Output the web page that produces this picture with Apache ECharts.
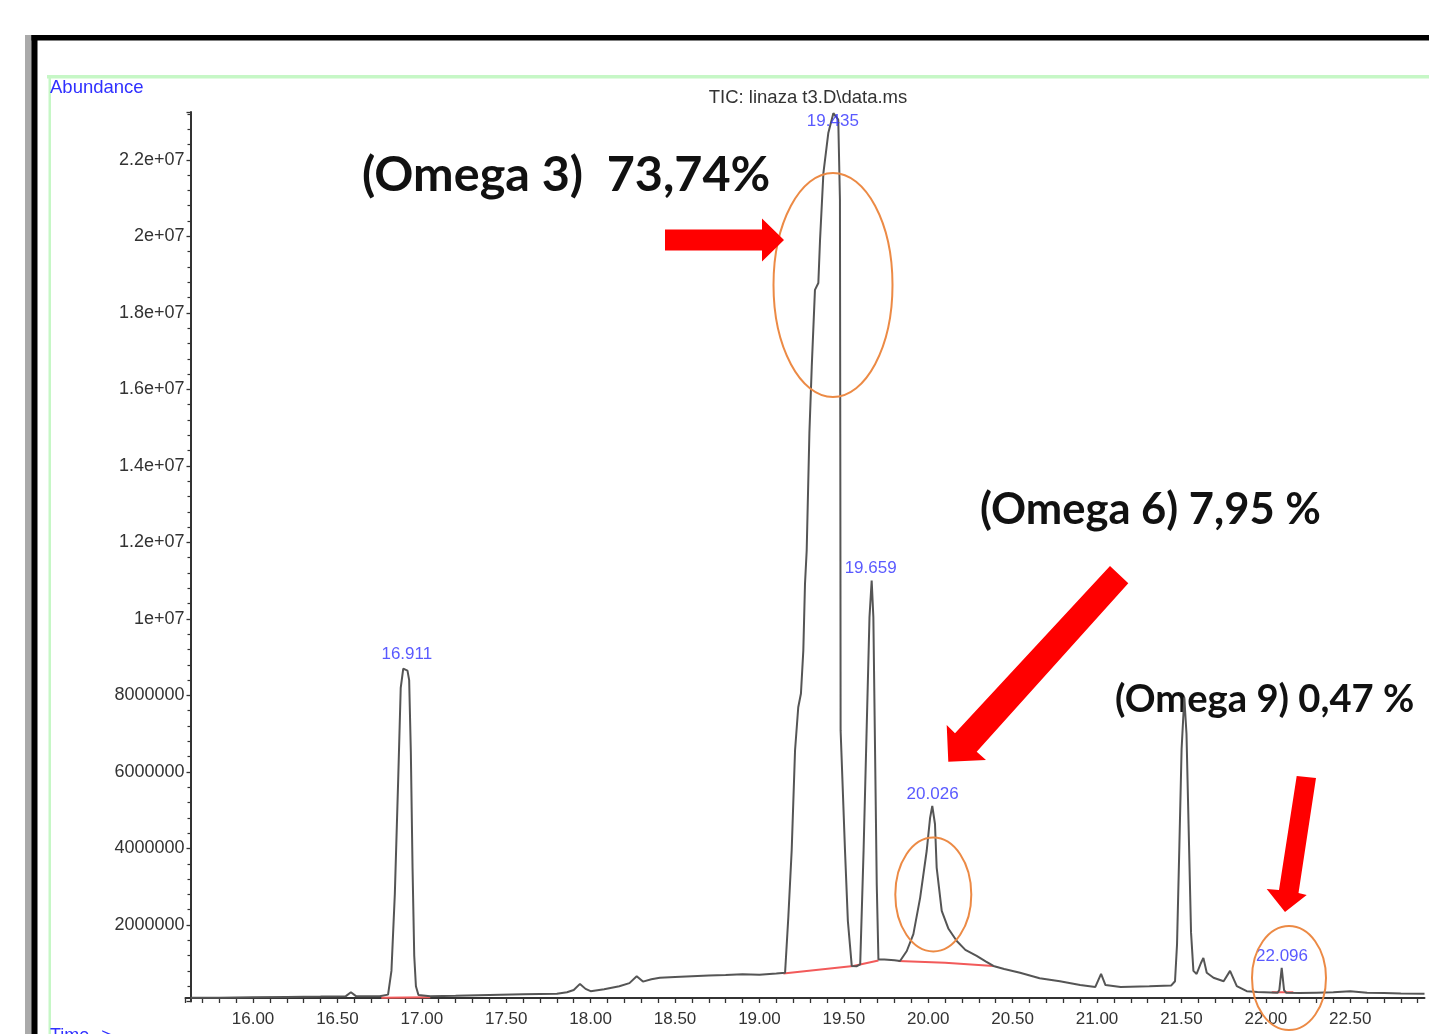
<!DOCTYPE html>
<html><head><meta charset="utf-8">
<script src="https://cdn.jsdelivr.net/npm/echarts@6/dist/echarts.min.js"></script>
<style>html,body{margin:0;padding:0;background:#fff}#chart{width:1429px;height:1034px}</style>
</head><body><div id="chart"></div>
<script>
// Retention time (min)
const timeMin = [
15.63,15.80,16.00,16.20,16.40,16.55,16.58,16.61,16.75,16.80,16.82,16.84,16.86,16.875,16.89,16.90,16.915,16.925,16.935,16.945,16.955,16.965,16.98,
17.05,17.20,17.40,17.60,17.80,17.86,17.90,17.937,17.97,18.00,18.08,18.17,18.23,18.273,18.31,18.36,18.41,18.50,18.60,18.70,18.80,18.90,19.00,19.10,
19.152,19.171,19.191,19.211,19.230,19.246,19.260,19.270,19.280,19.296,19.310,19.329,19.349,19.359,19.379,19.408,19.438,19.467,19.477,19.479,19.480,19.481,19.486,19.507,19.524,19.547,
19.575,19.597,19.617,19.637,19.652,19.665,19.675,19.685,19.695,19.705,19.74,19.80,19.833,19.873,19.912,19.952,19.991,20.011,20.024,20.040,20.050,20.080,20.12,20.169,20.22,20.287,20.34,20.386,20.45,20.544,
20.66,20.78,20.90,20.99,21.024,21.05,21.14,21.31,21.44,21.462,21.474,21.488,21.501,21.517,21.530,21.545,21.557,21.571,21.59,21.615,21.63,21.65,21.69,21.75,21.788,21.828,21.887,21.95,
22.07,22.08,22.094,22.108,22.12,22.20,22.30,22.40,22.50,22.60,22.70,22.80,22.94
];
// Abundance (millions of counts)
const abundanceM = [
0.10,0.10,0.11,0.12,0.13,0.14,0.24,0.14,0.14,0.18,0.8,2.8,5.8,8.2,8.7,8.75,8.65,8.4,6.5,3.5,1.2,0.4,0.17,
0.14,0.15,0.17,0.19,0.20,0.24,0.30,0.46,0.33,0.27,0.32,0.40,0.48,0.66,0.52,0.58,0.62,0.64,0.66,0.68,0.69,0.71,0.70,0.73,
0.75,2.19,3.94,6.56,7.69,8.05,9.17,10.92,11.79,14.85,16.59,18.6,18.78,19.9,21.65,22.7,23.22,23.05,20.95,14.85,11.5,7.08,6.48,3.94,2.1,0.93,
0.92,0.97,3.94,7.43,10.04,11.0,10.04,6.56,3.07,1.1,1.1,1.08,1.06,1.32,1.76,2.71,3.94,4.8,5.11,4.64,3.5,2.37,1.9,1.58,1.35,1.19,1.05,0.93,0.85,0.75,
0.61,0.53,0.43,0.38,0.72,0.43,0.38,0.40,0.42,0.53,1.5,4.1,6.6,7.95,7.0,4.1,1.8,0.8,0.72,1.0,1.14,0.75,0.62,0.53,0.80,0.40,0.27,0.25,
0.23,0.30,0.88,0.30,0.23,0.22,0.23,0.24,0.27,0.23,0.22,0.21,0.20
];
// Labelled peaks
const peakTimes = [16.911, 19.435, 19.659, 20.026, 22.096];
const peakAbundanceM = [8.75, 23.22, 11.0, 5.11, 0.88];
const peakLabels = ['16.911', '19.435', '19.659', '20.026', '22.096'];
// Integration baselines (red)
const baselineTimes = [[16.76, 17.05], [19.142, 19.556, 19.705], [19.823, 20.10, 20.386], [22.035, 22.163]];
const baselineAbundM = [[0.10, 0.11], [0.73, 0.93, 1.07], [1.06, 1.01, 0.93], [0.24, 0.24]];
// Tick labels
const xTickValues = [16.0, 16.5, 17.0, 17.5, 18.0, 18.5, 19.0, 19.5, 20.0, 20.5, 21.0, 21.5, 22.0, 22.5];
const xTickLabels = ['16.00','16.50','17.00','17.50','18.00','18.50','19.00','19.50','20.00','20.50','21.00','21.50','22.00','22.50'];
const yTickValuesM = [2, 4, 6, 8, 10, 12, 14, 16, 18, 20, 22];
const yTickLabels = ['2000000','4000000','6000000','8000000','1e+07','1.2e+07','1.4e+07','1.6e+07','1.8e+07','2e+07','2.2e+07'];
// Texts
const titleText = 'TIC: linaza t3.D\\data.ms';
const annotationTexts = ['(Omega 3)  73,74%', '(Omega 6) 7,95 %', '(Omega 9) 0,47 %'];

const M = 1e6;
const traceData = timeMin.map((t, i) => [t, abundanceM[i] * M]);
const peakData = peakTimes.map((t, i) => ({
  value: [t, peakAbundanceM[i] * M],
  name: peakLabels[i],
  label: peakLabels[i] === '19.435' ? { offset: [0, 20] } : {}
}));
const baselineSeries = baselineTimes.map((ts, k) => ({
  type: 'line', data: ts.map((t, i) => [t, baselineAbundM[k][i] * M]),
  symbol: 'none', lineStyle: { color: '#f25a5a', width: 2 }, z: 3, silent: true
}));

const axisFont = '"Liberation Sans", Arial, sans-serif';
const blue = '#3030ff';
const chart = echarts.init(document.getElementById('chart'), null, { renderer: 'canvas' });

chart.setOption({
  animation: false,
  backgroundColor: '#ffffff',
  grid: { left: 185.5, right: 4.5, top: 112, bottom: 32.5, containLabel: false },
  xAxis: {
    type: 'value', min: 15.6, max: 22.94, interval: 0.1, offset: -3.5,
    axisLine: { show: true, onZero: false, lineStyle: { color: '#333', width: 2 } },
    axisTick: { show: true, length: 5, lineStyle: { color: '#333', width: 1.3 } },
    splitLine: { show: false },
    axisLabel: {
      show: true, interval: 0, margin: 12, color: '#333', fontSize: 17, fontFamily: axisFont, lineHeight: 18,
      showMinLabel: true, showMaxLabel: false,
      formatter: v => { const i = xTickValues.findIndex(x => Math.abs(x - v) < 1e-6); return i >= 0 ? xTickLabels[i] : ''; }
    }
  },
  yAxis: {
    type: 'value', min: 0, max: 23.25 * M, interval: 2 * M, offset: -5,
    axisLine: { show: true, onZero: false, lineStyle: { color: '#333', width: 2 } },
    axisTick: { show: true, length: 4, lineStyle: { color: '#333', width: 1.3 } },
    minorTick: { show: true, splitNumber: 5, length: 3, lineStyle: { color: '#333', width: 1.2 } },
    splitLine: { show: false },
    axisLabel: {
      show: true, margin: 6, color: '#333', fontSize: 18, fontFamily: axisFont,
      showMaxLabel: false,
      formatter: v => { const i = yTickValuesM.findIndex(x => Math.abs(x * M - v) < 1); return i >= 0 ? yTickLabels[i] : ''; }
    }
  },
  series: [
    {
      type: 'line', data: traceData, symbol: 'none', z: 4,
      lineStyle: { color: '#555555', width: 2 }, clip: false
    },
    ...baselineSeries,
    {
      type: 'scatter', data: peakData, symbolSize: 1, z: 5, clip: false,
      itemStyle: { color: 'rgba(0,0,0,0)' },
      label: {
        show: true, position: 'top', distance: 3, formatter: p => p.name,
        color: blue, fontSize: 17, fontFamily: axisFont
      }
    }
  ],
  graphic: [
    // frame
    { type: 'rect', shape: { x: 25, y: 35, width: 7, height: 1000 }, style: { fill: '#aaaaaa' }, z: 1 },
    { type: 'rect', shape: { x: 31.5, y: 35, width: 6, height: 1000 }, style: { fill: '#000000' }, z: 1 },
    { type: 'rect', shape: { x: 31.5, y: 35, width: 1400, height: 5.5 }, style: { fill: '#000000' }, z: 1 },
    { type: 'rect', shape: { x: 47, y: 75, width: 1382, height: 3.5 }, style: { fill: '#c6f7c6' }, z: 1 },
    { type: 'rect', shape: { x: 48.5, y: 76, width: 2.5, height: 960 }, style: { fill: '#c6f7c6' }, z: 1 },
    // texts
    { type: 'text', x: 50, y: 88, style: { text: 'Abundance', fill: blue, font: '18.5px ' + axisFont, textVerticalAlign: 'middle' }, z: 1 },
    { type: 'text', x: 808, y: 98, style: { text: titleText, fill: '#333', font: '18.5px ' + axisFont, textAlign: 'center', textVerticalAlign: 'middle' }, z: 1 },
    { type: 'text', x: 50, y: 1027, style: { text: 'Time-->', fill: blue, font: '18px ' + axisFont, textVerticalAlign: 'top' }, z: 1 },
    { type: 'text', x: 362, y: 175, style: { text: annotationTexts[0], fill: '#111', font: 'bold 48.5px Lato, "Open Sans", sans-serif', textVerticalAlign: 'middle' }, z: 1 },
    { type: 'text', x: 980, y: 510, style: { text: annotationTexts[1], fill: '#111', font: 'bold 43.5px Lato, "Open Sans", sans-serif', textVerticalAlign: 'middle' }, z: 1 },
    { type: 'text', x: 1115, y: 700, style: { text: annotationTexts[2], fill: '#111', font: 'bold 38.2px Lato, "Open Sans", sans-serif', textVerticalAlign: 'middle' }, z: 1 },
    // ellipses
    { type: 'ellipse', shape: { cx: 833, cy: 285, rx: 59.5, ry: 112 }, style: { fill: 'none', stroke: '#ec8a45', lineWidth: 2 }, z: 10 },
    { type: 'ellipse', shape: { cx: 933.3, cy: 894.5, rx: 38, ry: 57 }, style: { fill: 'none', stroke: '#ec8a45', lineWidth: 2 }, z: 10 },
    { type: 'ellipse', shape: { cx: 1289, cy: 978, rx: 37, ry: 52 }, style: { fill: 'none', stroke: '#ec8a45', lineWidth: 2 }, z: 10 },
    // arrows
    { type: 'polygon', shape: { points: [[665,229.5],[762,229.5],[762,218.5],[784,240],[762,261.5],[762,250.5],[665,250.5]] }, style: { fill: '#ff0000' }, z: 10 },
    { type: 'polygon', shape: { points: [[1110,566],[1128.3,583.3],[976.7,751.7],[986,760],[948.3,761.7],[946.7,725],[955,733.3]] }, style: { fill: '#ff0000' }, z: 10 },
    { type: 'polygon', shape: { points: [[1296.7,776],[1316,778],[1298.5,893],[1306.7,895],[1285,912],[1266.7,889],[1279,890]] }, style: { fill: '#ff0000' }, z: 10 }
  ]
});
</script></body></html>
